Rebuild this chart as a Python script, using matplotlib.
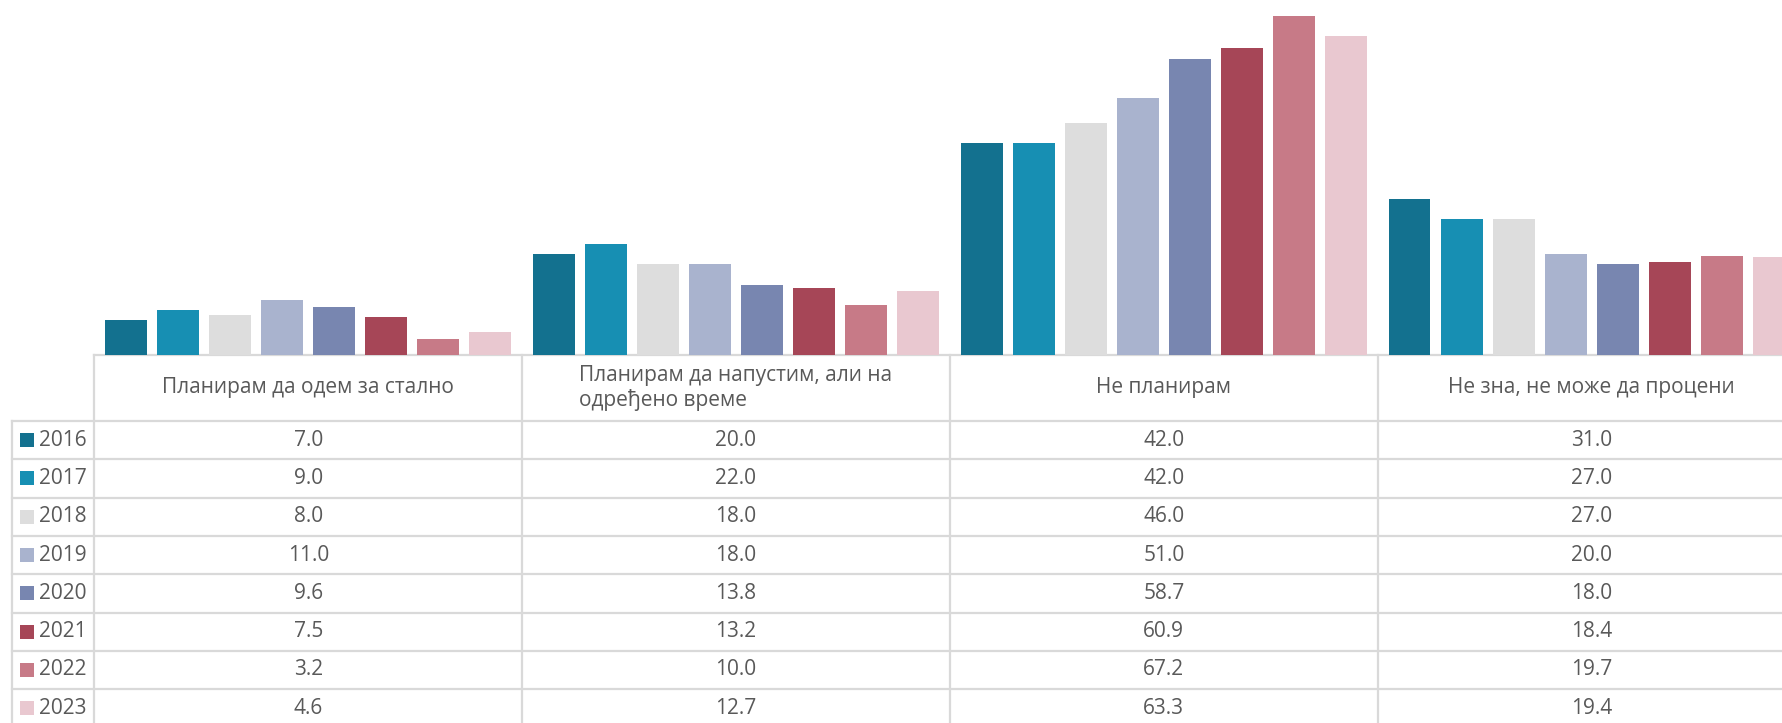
import numpy as np
import matplotlib
matplotlib.use("Agg")
import matplotlib.pyplot as plt

plt.rcParams["font.family"] = ["Open Sans", "DejaVu Sans"]

categories = [
    "Планирам да одем за стално",
    "Планирам да напустим, али на\nодређено време",
    "Не планирам",
    "Не зна, не може да процени",
]
years = ["2016", "2017", "2018", "2019", "2020", "2021", "2022", "2023"]
values = {
    "2016": [7.0, 20.0, 42.0, 31.0],
    "2017": [9.0, 22.0, 42.0, 27.0],
    "2018": [8.0, 18.0, 46.0, 27.0],
    "2019": [11.0, 18.0, 51.0, 20.0],
    "2020": [9.6, 13.8, 58.7, 18.0],
    "2021": [7.5, 13.2, 60.9, 18.4],
    "2022": [3.2, 10.0, 67.2, 19.7],
    "2023": [4.6, 12.7, 63.3, 19.4],
}
colors = ["#13718F", "#178FB3", "#DDDDDD", "#A9B3CE",
          "#7886B0", "#A64657", "#C77A87", "#E9C8D0"]

W, H = 1782, 723
TEXT = "#595959"
GRID = "#D9D9D9"
FS = 15
left_col = 12.0      # legend column left edge (px)
cat_x0 = 94.3        # first category column left edge (px)
cat_w = 427.8        # category column width (px)
base_y = 355.0       # bar baseline / table top (px)
head_h = 66.0        # header row height
row_h = 38.3         # data row height
px_per_unit = 5.045

fig = plt.figure(figsize=(W / 100, H / 100), dpi=100)

# bars
ax = fig.add_axes([cat_x0 / W, (H - base_y) / H, (W - cat_x0) / W, base_y / H])
ax.set_xlim(0, (W - cat_x0) / cat_w)
ax.set_ylim(0, base_y / px_per_unit)
pitch = 0.1216
bw = 0.098
x = np.arange(len(categories)) + 0.5
for j, y in enumerate(years):
    ax.bar(x + (j - 3.5) * pitch, values[y], width=bw, color=colors[j], zorder=2)
ax.axis("off")

# data table
tb = fig.add_axes([0, 0, 1, 1], zorder=-1)
tb.set_xlim(0, W)
tb.set_ylim(H, 0)
tb.axis("off")
lw = 1.6
head_bot = base_y + head_h
n_rows = len(years)
table_bot = head_bot + row_h * (n_rows + 1)

tb.plot([cat_x0, W], [base_y, base_y], color=GRID, lw=lw)
tb.plot([cat_x0, cat_x0], [base_y, table_bot], color=GRID, lw=lw)
tb.plot([left_col, left_col], [head_bot, table_bot], color=GRID, lw=lw)
for i in range(1, len(categories)):
    xc = cat_x0 + cat_w * i
    tb.plot([xc, xc], [base_y, table_bot], color=GRID, lw=lw)
for r in range(n_rows + 1):
    yr = head_bot + row_h * r
    tb.plot([left_col, W], [yr, yr], color=GRID, lw=lw)

for i, c in enumerate(categories):
    tb.text(cat_x0 + cat_w * (i + 0.5), base_y + head_h / 2, c, ha="center",
            va="center", multialignment="left", fontsize=FS, color=TEXT,
            linespacing=1.2)

for r, y in enumerate(years):
    yc = head_bot + row_h * (r + 0.5)
    tb.add_patch(plt.Rectangle((20, yc - 7), 14, 14, color=colors[r], lw=0))
    tb.text(39, yc, y, ha="left", va="center", fontsize=FS, color=TEXT)
    for i in range(len(categories)):
        tb.text(cat_x0 + cat_w * (i + 0.5), yc, f"{values[y][i]:.1f}",
                ha="center", va="center", fontsize=FS, color=TEXT)

fig.savefig("out.png", dpi=100)
